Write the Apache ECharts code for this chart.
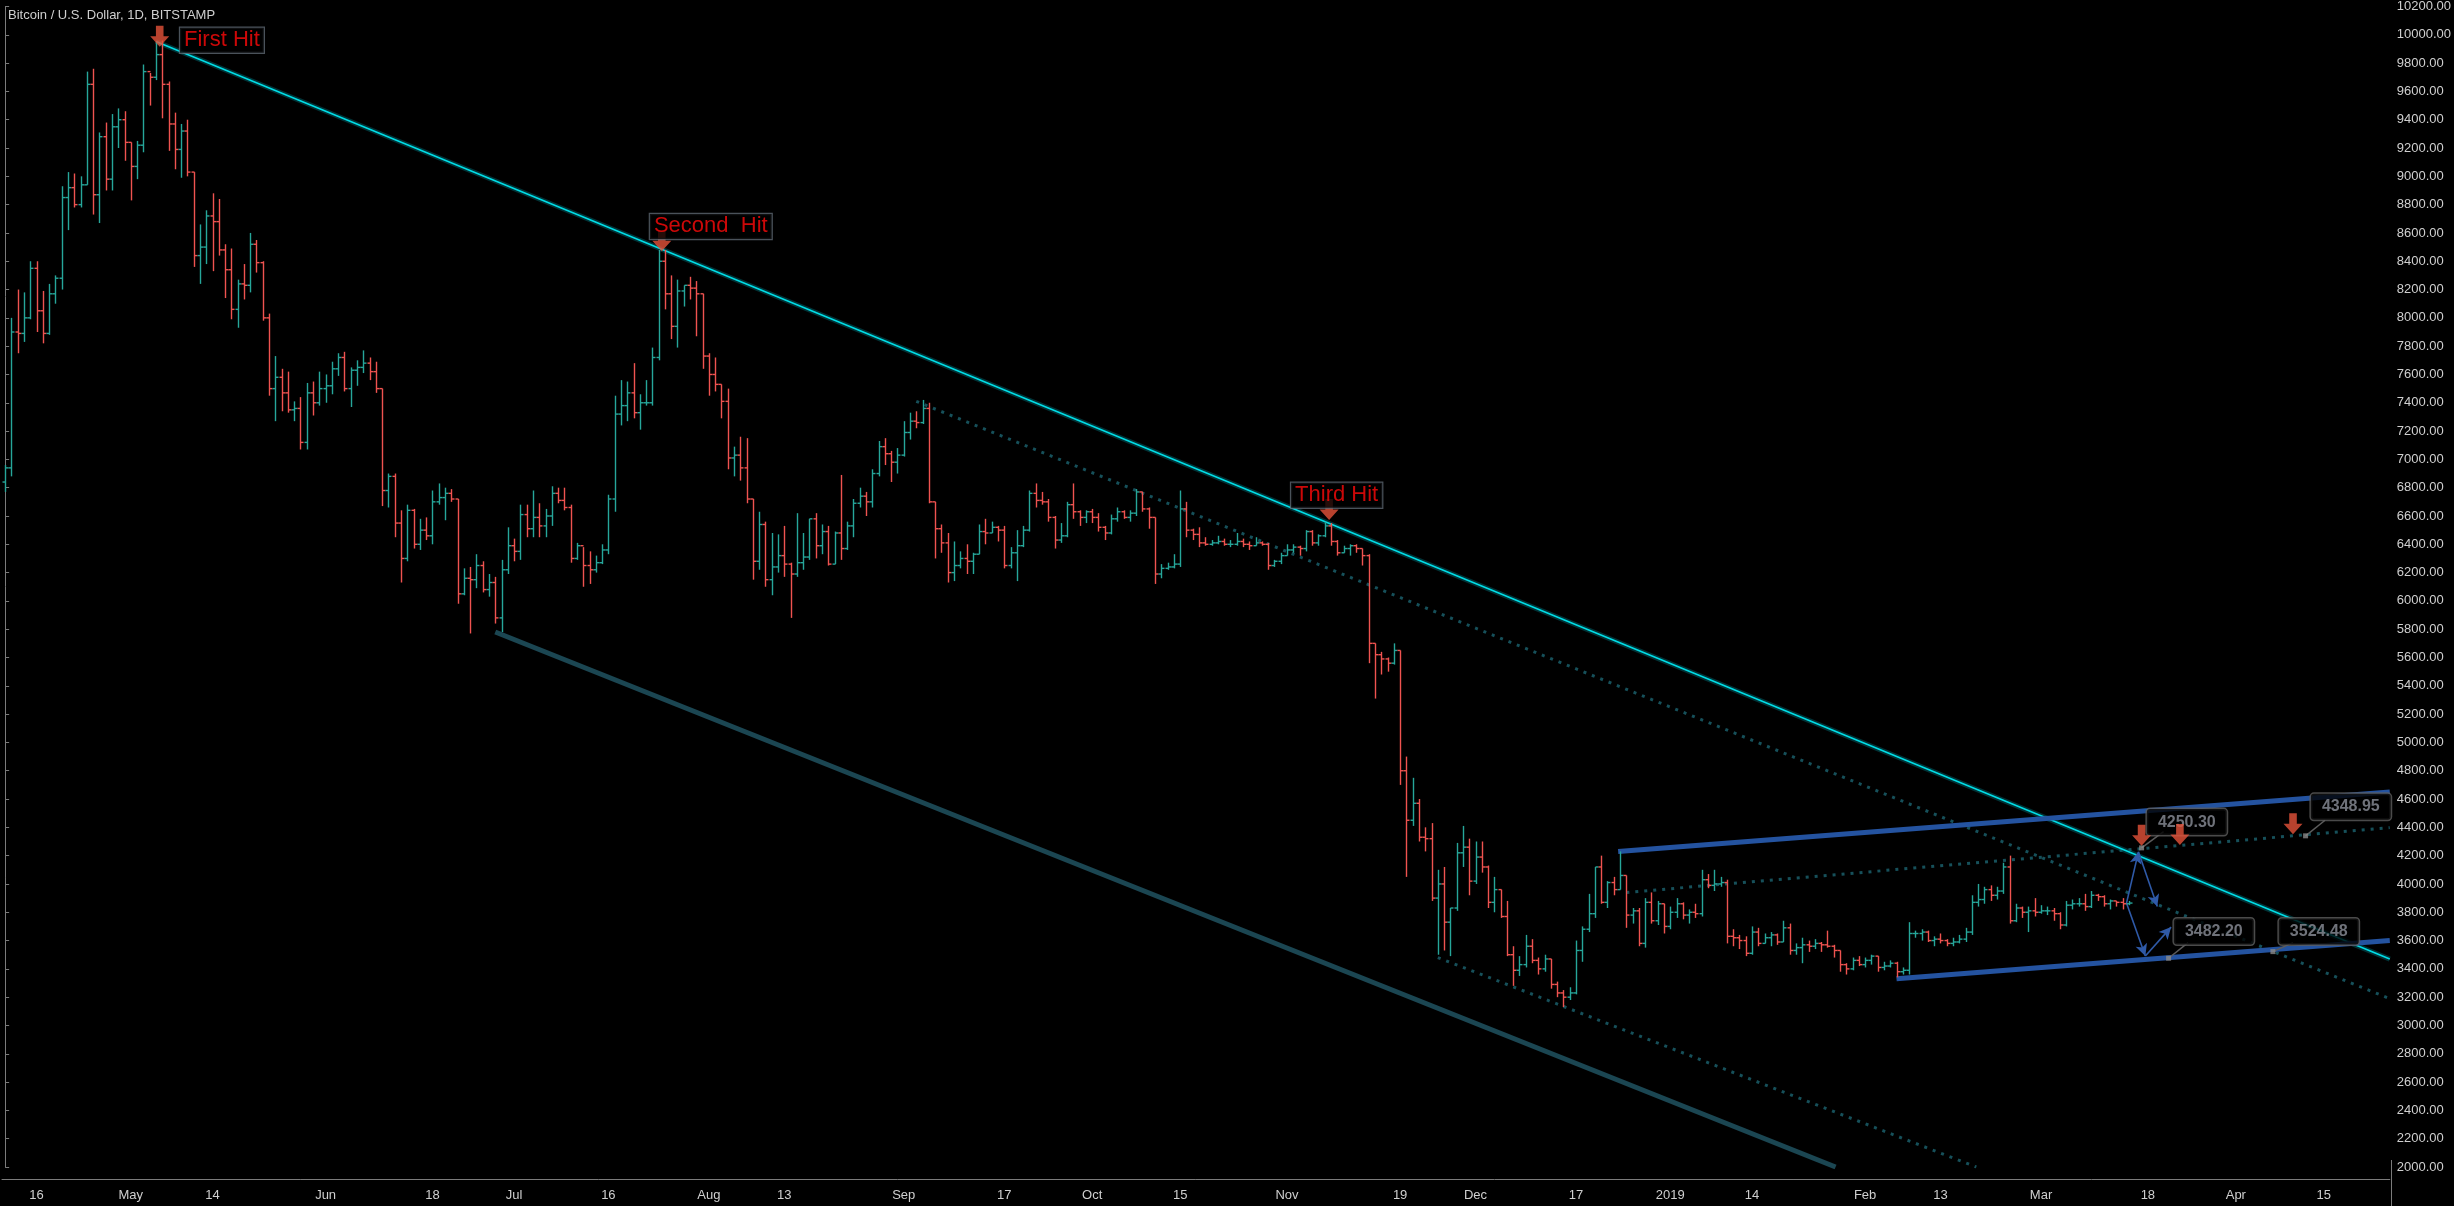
<!DOCTYPE html>
<html><head><meta charset="utf-8">
<script src="https://cdn.jsdelivr.net/npm/echarts@6/dist/echarts.min.js"></script>
<style>html,body{margin:0;padding:0;background:#000}#c{width:2454px;height:1206px}</style>
</head><body><div id="c"></div>
<script>
// ---- DATA (daily bars from 2018-04-11, [high, low, close]; open = previous close) ----
const firstOpen = 6840;
const apr18 = [[6960,6770,6940],[8000,6880,7900],[8200,7750,7890],[8180,7830,8000],[8400,7990,8350],[8400,7900,8050],[8190,7820,7890],[8240,7880,8170],[8300,8100,8280],[8930,8200,8850],[9030,8620,8920],[9020,8780,8800],[9000,8780,8940],[9740,8940,9650],[9760,8730,8870],[9310,8670,9280],[9380,8900,8980],[9440,8900,9350],[9480,9200,9400],[9460,9110,9240]];
const may18 = [[9240,8830,9070],[9250,8980,9220],[9790,9170,9740],[9730,9500,9700],[9950,9680,9860],[9960,9410,9650],[9670,9180,9370],[9450,9050,9190],[9370,8990,9320],[9400,9000,9030],[9030,8360,8440],[8660,8240,8500],[8760,8380,8720],[8880,8330,8680],[8840,8440,8480],[8520,8140,8340],[8490,7990,8060],[8270,7930,8240],[8380,8130,8230],[8600,8180,8520],[8550,8320,8390],[8400,7980,8000],[8030,7450,7500],[7730,7270,7580],[7640,7340,7470],[7620,7330,7350],[7410,7270,7360],[7440,7070,7120],[7540,7070,7470],[7550,7310,7400],[7620,7380,7500]];
const jun18 = [[7600,7400,7520],[7690,7460,7640],[7750,7590,7720],[7760,7480,7500],[7650,7370,7630],[7700,7520,7650],[7770,7610,7680],[7720,7560,7620],[7690,7470,7500],[7500,6670,6780],[6900,6660,6880],[6900,6450,6550],[6640,6130,6300],[6680,6280,6640],[6650,6370,6400],[6580,6360,6500],[6590,6430,6460],[6780,6400,6700],[6830,6680,6730],[6800,6570,6760],[6790,6700,6720],[6720,5980,6050],[6230,6040,6160],[6240,5770,6150],[6330,6090,6250],[6280,6060,6080],[6190,6030,6130],[6170,5840,5880],[6290,5780,6220],[6520,6190,6390]];
const jul18 = [[6440,6280,6350],[6680,6290,6610],[6680,6450,6510],[6780,6450,6590],[6690,6450,6530],[6650,6450,6600],[6810,6530,6760],[6800,6690,6710],[6800,6640,6660],[6680,6270,6300],[6410,6290,6390],[6380,6100,6250],[6350,6120,6220],[6320,6200,6270],[6400,6260,6360],[6750,6330,6720],[7450,6630,7320],[7560,7240,7380],[7550,7270,7470],[7680,7290,7330],[7460,7210,7400],[7560,7380,7400],[7790,7380,7720],[8480,7700,8400],[8480,8060,8170],[8300,7850,7940],[8270,7790,8190],[8230,8080,8230],[8290,8130,8210],[8260,7870,8170],[8170,7640,7730]];
const aug18 = [[7750,7450,7600],[7720,7480,7530],[7530,7290,7410],[7500,6930,7010],[7090,6880,7030],[7160,6850,6940],[7150,6690,6720],[6720,6150,6280],[6630,6220,6540],[6560,6100,6150],[6480,6040,6240],[6470,6200,6320],[6530,6170,6260],[6270,5880,6190],[6620,6170,6270],[6480,6220,6310],[6580,6290,6580],[6620,6300,6390],[6540,6330,6490],[6530,6250,6260],[6490,6260,6480],[6890,6290,6370],[6560,6360,6530],[6720,6450,6690],[6800,6660,6740],[6770,6600,6700],[6930,6660,6900],[7130,6880,7090],[7150,6960,7040],[7060,6840,6980],[7080,6900,7030]];
const sep18 = [[7270,7020,7190],[7330,7140,7270],[7340,7220,7260],[7420,7250,7360],[7400,6690,6700],[6700,6300,6510],[6540,6340,6410],[6480,6130,6200],[6420,6140,6250],[6350,6230,6300],[6400,6190,6280],[6340,6190,6330],[6540,6330,6490],[6580,6400,6480],[6560,6480,6520],[6530,6420,6500],[6530,6230,6250],[6380,6230,6340],[6500,6140,6390],[6530,6380,6500],[6780,6490,6760],[6830,6660,6710],[6770,6680,6700],[6720,6560,6590],[6600,6370,6430],[6550,6410,6460],[6700,6450,6680],[6830,6580,6630],[6640,6530,6590],[6640,6550,6630]];
const oct18 = [[6650,6550,6590],[6620,6490,6520],[6530,6430,6480],[6610,6470,6580],[6660,6560,6630],[6640,6580,6590],[6640,6560,6620],[6790,6600,6770],[6770,6630,6650],[6660,6510,6590],[6590,6120,6190],[6260,6160,6230],[6270,6220,6240],[6330,6230,6260],[6780,6240,6650],[6700,6450,6500],[6510,6430,6470],[6520,6380,6410],[6450,6390,6400],[6430,6390,6410],[6460,6400,6420],[6440,6390,6400],[6430,6380,6400],[6480,6390,6420],[6440,6380,6400],[6420,6360,6390],[6450,6390,6410],[6420,6390,6400],[6410,6220,6250],[6290,6240,6280],[6340,6260,6320]];
const nov18 = [[6400,6320,6360],[6400,6340,6380],[6390,6320,6370],[6500,6350,6490],[6500,6390,6410],[6470,6390,6460],[6560,6450,6530],[6550,6390,6420],[6430,6320,6340],[6390,6340,6370],[6400,6320,6390],[6400,6340,6370],[6370,6250,6320],[6330,5560,5700],[5700,5310,5620],[5640,5480,5590],[5600,5500,5560],[5700,5550,5650],[5650,4700,4800],[4900,4050,4450],[4750,4410,4570],[4600,4300,4330],[4400,4230,4320],[4430,3880,3900],[4100,3500,4000],[4120,3530,3730],[3830,3490,3830],[4290,3810,4220],[4410,4120,4260],[4320,3920,4020]];
const dec18 = [[4300,4000,4190],[4300,4080,4120],[4130,3830,3870],[4050,3800,3960],[3960,3760,3770],[3880,3490,3500],[3560,3280,3390],[3490,3350,3430],[3640,3410,3560],[3610,3440,3460],[3480,3360,3400],[3500,3380,3470],[3470,3260,3290],[3310,3200,3230],[3250,3130,3200],[3270,3180,3230],[3600,3220,3530],[3700,3450,3680],[3930,3660,3790],[4120,3760,4120],[4200,3860,3870],[4020,3830,4010],[4050,3920,3960],[4230,3960,4060],[4060,3690,3780],[3830,3720,3810],[3830,3560,3580],[3900,3550,3870],[3940,3720,3740],[3880,3710,3860],[3860,3650,3700]];
const jan19 = [[3840,3680,3800],[3900,3760,3860],[3870,3750,3780],[3820,3720,3800],[3860,3760,3790],[4100,3770,4030],[4070,3970,3990],[4100,3950,4000],[4050,3980,4010],[4030,3580,3630],[3680,3560,3620],[3640,3540,3600],[3630,3490,3510],[3700,3500,3660],[3690,3560,3580],[3650,3580,3620],[3660,3560,3640],[3650,3570,3590],[3740,3590,3690],[3720,3500,3530],[3580,3500,3550],[3620,3440,3570],[3600,3520,3560],[3610,3540,3580],[3590,3520,3570],[3670,3550,3560],[3570,3480,3530],[3530,3380,3430],[3440,3360,3400],[3480,3390,3460],[3490,3420,3430]];
const feb19 = [[3480,3410,3460],[3500,3430,3490],[3490,3380,3410],[3450,3390,3420],[3460,3410,3440],[3450,3340,3380],[3410,3360,3390],[3730,3360,3650],[3670,3620,3650],[3680,3600,3660],[3670,3590,3600],[3630,3560,3610],[3650,3580,3600],[3610,3560,3580],[3620,3560,3590],[3640,3580,3610],[3690,3590,3660],[3920,3640,3870],[4000,3840,3890],[3980,3860,3960],[3990,3880,3920],[3980,3890,3950],[4150,3930,4120],[4200,3720,3740],[3860,3730,3830],[3840,3760,3800],[3840,3660,3810],[3900,3770,3800]];
const mar19 = [[3850,3790,3810],[3840,3780,3810],[3830,3740,3790],[3800,3680,3710],[3880,3700,3850],[3890,3820,3860],[3900,3840,3860],[3930,3810,3840],[3950,3830,3920],[3930,3880,3910],[3920,3840,3860],[3890,3820,3880],[3880,3840,3870],[3900,3820,3860],[3880,3850,3864.89]];
const xTickLabels = {'2018-04-16':'16','2018-05-01':'May','2018-05-14':'14','2018-06-01':'Jun','2018-06-18':'18','2018-07-01':'Jul','2018-07-16':'16','2018-08-01':'Aug','2018-08-13':'13','2018-09-01':'Sep','2018-09-17':'17','2018-10-01':'Oct','2018-10-15':'15','2018-11-01':'Nov','2018-11-19':'19','2018-12-01':'Dec','2018-12-17':'17','2019-01-01':'2019','2019-01-14':'14','2019-02-01':'Feb','2019-02-13':'13','2019-03-01':'Mar','2019-03-18':'18','2019-04-01':'Apr','2019-04-15':'15'};
// drawn objects: [dayIndex from 2018-04-11, price]
const cyanTrend = [[24,9953],[379.5,3469]];
const tealLine = [[78,5780],[291.3,2000]];
const dottedA = [[145,7410],[379.5,3189]];
const dottedB = [[228,3480],[313.7,2000]];
const dottedC = [[258,3940],[379.5,4398]];
const blueUpper = [[256.7,4230],[379.5,4650]];
const blueLower = [[301,3330],[379.5,3600]];
const arrowSegs = [[[337.6,3865],[339.5,4227]],[[339.5,4227],[342.5,3841]],[[337.6,3865],[340.6,3491]],[[340.6,3491],[344.7,3695]]];
const callouts = [{t:'4250.30',a:[340.0,4255],b:[347.2,4437],k:[343.5,4370]},{t:'4348.95',a:[366.1,4340],b:[373.3,4545],k:[369.2,4450]},{t:'3482.20',a:[344.3,3475],b:[351.5,3664],k:[347.4,3585]},{t:'3524.48',a:[360.9,3522],b:[368.2,3664],k:[364.1,3585]}];
const redArrows = [[24.6,9990],[104.5,8545],[210.7,6645],[340.0,4345],[346.1,4350],[364.1,4425]];
const hitLabels = [{t:'First Hit',p:[34.5,9961]},{t:'Second  Hit',p:[112.3,8646]},{t:'Third Hit',p:[211.9,6747]}];

// ---- build ----
const months = [apr18,may18,jun18,jul18,aug18,sep18,oct18,nov18,dec18,jan19,feb19,mar19];
const bars = [];
let prev = firstOpen, idx = 0;
months.forEach(m => m.forEach(([h,l,c]) => { bars.push([idx, prev, c, l, h]); prev = c; idx++; }));
const cats = [];
const d0 = new Date(Date.UTC(2018,3,11));
for (let i = 0; i < 380; i++) { const d = new Date(d0.getTime() + i*86400000); cats.push(d.toISOString().slice(0,10)); }
const lastClose = bars[bars.length-1][2];
const showTick = (i, v) => xTickLabels[v] !== undefined;

const GREEN = '#26a69a', RED = '#ef5350';
function lineSeries(data, style, z) {
  return {type:'line', xAxisIndex:1, yAxisIndex:0, data, symbol:'none', silent:true, z:z||3, lineStyle:style, animation:false};
}
const series = [];
series.push({
  type:'custom', xAxisIndex:0, yAxisIndex:0, z:5, animation:false,
  data: bars,
  encode:{x:0, y:[1,2,3,4]},
  markLine:{symbol:'none', silent:true, lineStyle:{opacity:0}, data:[{yAxis:lastClose}],
    label:{position:'end', distance:1, formatter:p=>lastClose.toFixed(2), backgroundColor:'#1e9d8b', color:'#fff', padding:[6,6], fontSize:13, fontFamily:'Liberation Sans'}},
  renderItem(params, api) {
    const i = api.value(0), o = api.value(1), c = api.value(2), l = api.value(3), h = api.value(4);
    const pH = api.coord([i, h]), pL = api.coord([i, l]), pO = api.coord([i, o]), pC = api.coord([i, c]);
    const col = c >= o ? GREEN : RED; const x = Math.round(pH[0]) + 0.5; const t = 3;
    const st = {stroke: col, lineWidth: 1.4};
    return {type:'group', children:[
      {type:'line', shape:{x1:x, y1:pH[1], x2:x, y2:pL[1]}, style:st},
      {type:'line', shape:{x1:x-t, y1:pO[1], x2:x, y2:pO[1]}, style:st},
      {type:'line', shape:{x1:x, y1:pC[1], x2:x+t, y2:pC[1]}, style:st}]};
  }
});
series.push(lineSeries(tealLine, {color:'#1b4652', width:5}));
series.push(lineSeries(dottedA, {color:'#16505a', width:3, type:[3,6]}));
series.push(lineSeries(dottedB, {color:'#16505a', width:3, type:[3,6]}));
series.push(lineSeries(dottedC, {color:'#16505a', width:3, type:[3,6]}));
series.push(lineSeries(cyanTrend, {color:'rgba(0,110,120,0.45)', width:5}, 4));
series.push(lineSeries(cyanTrend, {color:'#00dde6', width:1.6}, 4));
series.push(lineSeries(blueUpper, {color:'#2453a0', width:5}, 4));
series.push(lineSeries(blueLower, {color:'#2453a0', width:5}, 4));
series.push({type:'line', xAxisIndex:1, data:[], silent:true, animation:false,
  markLine:{silent:true, symbol:['none','arrow'], symbolSize:[9,12], lineStyle:{color:'#2f5aa8', width:1.6, type:'solid'}, label:{show:false},
    data: arrowSegs.map(s => [{coord:s[0]},{coord:s[1]}])}, z:6});
callouts.forEach(c => series.push(lineSeries([c.a, c.k], {color:'#5c5c5c', width:1.5}, 7)));
series.push({type:'scatter', xAxisIndex:1, data:callouts.map(c=>c.a), symbol:'rect', symbolSize:5, itemStyle:{color:'#8a8a8a'}, z:8, silent:true, animation:false});
series.push({type:'scatter', xAxisIndex:1, data:callouts.map(c=>({value:c.b, name:c.t})), symbolSize:0, z:9, silent:true, animation:false,
  label:{show:true, position:'inside', formatter:p=>p.name, color:'#8b8f98', fontSize:16, fontWeight:'bold', fontFamily:'Liberation Sans',
    backgroundColor:'#000', borderColor:'#5c5c5c', borderWidth:1.5, borderRadius:3, padding:[5,11]}});
series.push({type:'scatter', xAxisIndex:1, data:redArrows, symbol:'path://M3,0 L7,0 L7,5 L10,5 L5,10 L0,5 L3,5 Z', symbolSize:[19,21],
  itemStyle:{color:'#e5533a'}, z:10, silent:true, animation:false});
series.push({type:'scatter', xAxisIndex:1, data:hitLabels.map(h=>({value:h.p, name:h.t})), symbolSize:0, z:10, silent:true, animation:false,
  label:{show:true, position:'inside', formatter:p=>p.name, color:'#ff0a0a', fontSize:22, fontFamily:'Liberation Sans',
    backgroundColor:'#000', borderColor:'#5d6670', borderWidth:1.2, padding:[2,4,1,4]}});

const chart = echarts.init(document.getElementById('c'), null, {renderer:'canvas'});
chart.setOption({
  backgroundColor:'#000', animation:false,
  graphic:[
    {type:'text', left:8, top:9, z:20, style:{text:'Bitcoin / U.S. Dollar, 1D, BITSTAMP', fill:'#cfcfcf', font:'13px "Liberation Sans"'}},
    {type:'line', shape:{x1:2391.5, y1:1160, x2:2391.5, y2:1206}, style:{stroke:'#7b7b7b', lineWidth:1}}
  ],
  grid:{left:2, right:63, top:-2, bottom:39, containLabel:false},
  xAxis:[
    {type:'category', data:cats, boundaryGap:true, offset:12,
      axisLine:{lineStyle:{color:'#7b7b7b'}},
      axisTick:{alignWithLabel:true, interval:showTick, length:4, lineStyle:{color:'#7b7b7b'}},
      axisLabel:{interval:showTick, formatter:v=>xTickLabels[v]||'', color:'#cfcfcf', fontSize:13, fontFamily:'Liberation Sans', margin:10},
      splitLine:{show:false}},
    {type:'value', min:-0.5, max:379.5, show:false}
  ],
  yAxis:[{type:'value', position:'right', min:2000, max:10200, interval:200, scale:true,
    axisLine:{show:true, lineStyle:{color:'#7b7b7b'}},
    axisTick:{show:true, length:4, lineStyle:{color:'#7b7b7b'}},
    axisLabel:{color:'#cfcfcf', fontSize:13, fontFamily:'Liberation Sans', margin:7, formatter:v=>v.toFixed(2)},
    splitLine:{show:false}}],
  series
});
</script></body></html>
